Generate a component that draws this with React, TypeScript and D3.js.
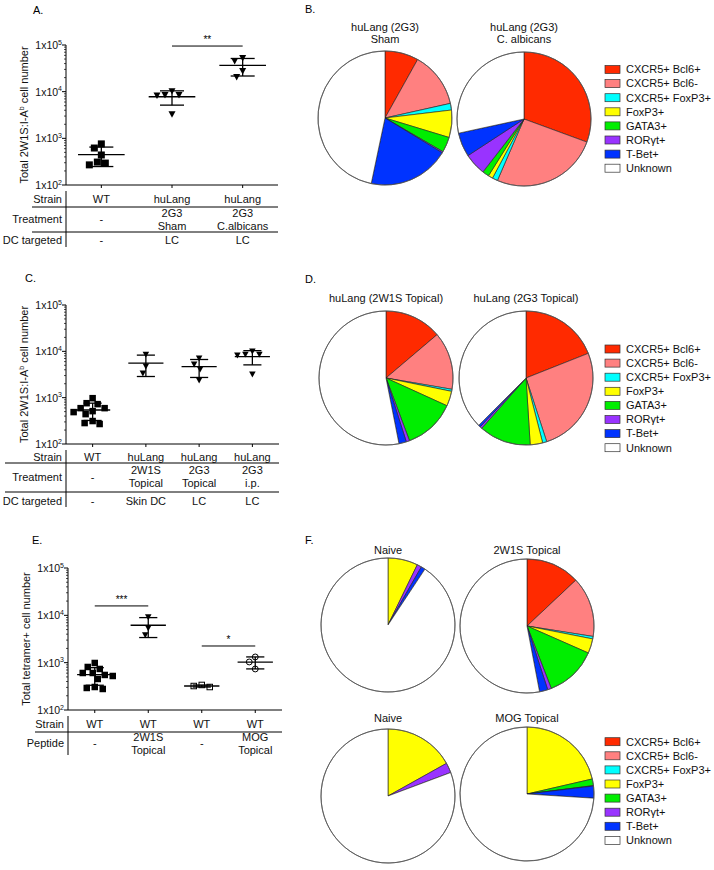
import React from "react";
import * as d3 from "d3";

const FONT = "'Liberation Sans', Arial, Helvetica, sans-serif";

// ---------- Panel A data ----------
const strainA = ["WT", "huLang", "huLang"];
const treatmentA = [["-"], ["2G3", "Sham"], ["2G3", "C.albicans"]];
const dcA = [["-"], ["LC"], ["LC"]];
const valuesA = [
  [760, 620, 440, 310, 270, 295],
  [10300, 8500, 8500, 8300, 3300],
  [52500, 45400, 27700, 20600],
];
const markersA = ["square", "triangle", "triangle"];
const sigA = [{ from: 1, to: 2, label: "**", value: 95000 }];

// ---------- Panel C data ----------
const strainC = ["WT", "huLang", "huLang", "huLang"];
const treatmentC = [["-"], ["2W1S", "Topical"], ["2G3", "Topical"], ["2G3", "i.p."]];
const dcC = [["-"], ["Skin DC"], ["LC"], ["LC"]];
const valuesC = [
  [975, 594, 725, 760, 594, 488, 512, 441, 313, 270, 283],
  [8600, 4750, 3370],
  [7060, 5250, 4100, 2380],
  [10000, 8600, 8600, 8200, 3200],
];
const markersC = ["square", "triangle", "triangle", "triangle"];

// ---------- Panel E data ----------
const strainE = ["WT", "WT", "WT", "WT"];
const peptideE = [["-"], ["2W1S", "Topical"], ["-"], ["MOG", "Topical"]];
const valuesE = [
  [985, 605, 736, 811, 605, 550, 523, 452, 306, 278, 292],
  [9250, 5420, 3850],
  [338, 306, 321],
  [1320, 1035, 736],
];
const markersE = ["square", "triangle", "openSquare", "openCircle"];
const sigE = [
  { from: 0, to: 1, label: "***", value: 15800 },
  { from: 2, to: 3, label: "*", value: 2250 },
];

// ---------- Pie data ----------
const cellTypes = ["CXCR5+ Bcl6+", "CXCR5+ Bcl6-", "CXCR5+ FoxP3+", "FoxP3+", "GATA3+", "RORγt+", "T-Bet+", "Unknown"];
const cellColors = ["#ff2a00", "#ff8080", "#00ffff", "#ffff00", "#00ee00", "#9933ff", "#0033ff", "#ffffff"];
const pieShamB = [8.1, 13.4, 1.6, 6.6, 3.7, 0.3, 19.6, 46.7];
const pieAlbicansB = [30.6, 25.9, 1.3, 1.1, 1.6, 5.3, 5.8, 28.4];
const pie2W1SD = [13.8, 13.9, 0.5, 3.6, 12.5, 0.8, 1.8, 53.1];
const pie2G3D = [19, 26, 1, 3, 12.5, 0.5, 0.5, 37.5];
const pieNaiveTopF = [0, 0, 0, 7.2, 0, 1.1, 1.0, 90.7];
const pie2W1SF = [13, 14.5, 0.6, 3.5, 12.5, 0.9, 2, 53];
const pieNaiveBottomF = [0, 0, 0, 16.9, 0, 2.4, 0, 80.7];
const pieMOGF = [0, 0, 0, 21.4, 1.6, 0.1, 2.9, 74];

const yTickExps = [2, 3, 4, 5];

type Part = { t: string; sup?: boolean };
const ylabelTotal2W1S: Part[] = [{ t: "Total 2W1S:I-A" }, { t: "b", sup: true }, { t: " cell number" }];
const ylabelTetramer: Part[] = [{ t: "Total tetramer+ cell number" }];

function swarm(ys: number[], size: number): number[] {
  const order = d3.range(ys.length).sort((a, b) => ys[a] - ys[b]);
  const placed: { x: number; y: number }[] = [];
  const xs = new Array(ys.length).fill(0);
  for (const i of order) {
    const yy = ys[i];
    let best = 0;
    for (let k = 0; k < 400; k++) {
      const off = k === 0 ? 0 : k % 2 === 1 ? -Math.ceil(k / 2) : Math.ceil(k / 2);
      if (placed.every((p) => Math.hypot(p.x - off, p.y - yy) >= size)) {
        best = off;
        break;
      }
    }
    xs[i] = best;
    placed.push({ x: best, y: yy });
  }
  return xs;
}

function Marker({ kind, x, y, s }: { kind: string; x: number; y: number; s: number }) {
  if (kind === "square") return <rect x={x - s / 2} y={y - s / 2} width={s} height={s} fill="#000" />;
  if (kind === "openSquare")
    return <rect x={x - s / 2 + 0.5} y={y - s / 2 + 0.5} width={s - 1} height={s - 1} fill="none" stroke="#000" strokeWidth={1} />;
  if (kind === "openCircle") return <circle cx={x} cy={y} r={s / 2 - 0.3} fill="none" stroke="#000" strokeWidth={1} />;
  const w = s;
  return (
    <path
      d={`M${x - w / 2},${y - s * 0.42}L${x + w / 2},${y - s * 0.42}L${x},${y + s * 0.5}Z`}
      fill="#000"
    />
  );
}

type Row = { label: string; cells: string[][]; cy: number; lineY?: number };
type PanelCfg = {
  x0: number;
  x1: number;
  yTop: number;
  yBottom: number;
  tableLeft: number;
  rowLabelX: number;
  rows: Row[];
  tableBottom: number;
  ylabel: Part[];
  ylabelX: number;
  values: number[][];
  markers: string[];
  sig: { from: number; to: number; label: string; value: number }[];
  markerSize: number;
};

function ScatterPanel({ p }: { p: PanelCfg }) {
  const n = p.values.length;
  const x = d3.scalePoint<number>().domain(d3.range(n)).range([p.x0, p.x1]).padding(0.5);
  const y = d3.scaleLog().domain([1e2, 1e5]).range([p.yBottom, p.yTop]);
  const step = x.step();
  const minors: number[] = [];
  for (let e = 2; e < 5; e++) for (let m = 2; m < 10; m++) minors.push(m * Math.pow(10, e));
  const meanHalf = step * 0.33;
  const capHalf = step * 0.17;
  const fs = 11;
  return (
    <g>
      {/* y axis */}
      <line x1={p.x0} x2={p.x0} y1={p.yTop} y2={p.yBottom} stroke="#000" strokeWidth={1} />
      {yTickExps.map((e) => {
        const v = Math.pow(10, e);
        const ty = y(v);
        return (
          <g key={"M" + e}>
            <line x1={p.x0 - 4} x2={p.x0} y1={ty} y2={ty} stroke="#000" strokeWidth={1} />
            <text x={p.x0 - 4} y={ty + 4} fontSize={10.5} textAnchor="end" fill="#111">
              <tspan>1x10</tspan>
              <tspan fontSize={7} dy={-4.5}>{e}</tspan>
            </text>
          </g>
        );
      })}
      {minors.map((v) => (
        <line key={"m" + v} x1={p.x0 - 2} x2={p.x0} y1={y(v)} y2={y(v)} stroke="#000" strokeWidth={0.7} />
      ))}
      {/* x axis */}
      <line x1={p.x0} x2={p.x1} y1={p.yBottom} y2={p.yBottom} stroke="#000" strokeWidth={1} />
      {d3.range(n).map((i) => (
        <line key={"xt" + i} x1={x(i)!} x2={x(i)!} y1={p.yBottom} y2={p.yBottom + 3} stroke="#000" strokeWidth={1} />
      ))}
      {/* y label */}
      <text
        transform={`translate(${p.ylabelX},${(p.yTop + p.yBottom) / 2}) rotate(-90)`}
        textAnchor="middle"
        fontSize={11}
        dy="0.35em"
        fill="#111"
      >
        {p.ylabel.map((part, i) => {
          const prevSup = i > 0 && p.ylabel[i - 1].sup;
          return (
            <tspan key={i} fontSize={part.sup ? 7 : 11} dy={part.sup ? -4 : prevSup ? 4 : 0}>
              {part.t}
            </tspan>
          );
        })}
      </text>
      {/* data */}
      {p.values.map((vals, gi) => {
        const cx = x(gi)!;
        const m = d3.mean(vals)!;
        const sd = d3.deviation(vals) || 0;
        const hi = m + sd;
        const lo = Math.max(m - sd, 101);
        const ys = vals.map((v) => y(v));
        const offs = swarm(ys, p.markerSize + 1);
        return (
          <g key={"g" + gi}>
            <line x1={cx - meanHalf} x2={cx + meanHalf} y1={y(m)} y2={y(m)} stroke="#000" strokeWidth={1.3} />
            <line x1={cx} x2={cx} y1={y(hi)} y2={y(lo)} stroke="#000" strokeWidth={1.3} />
            <line x1={cx - capHalf} x2={cx + capHalf} y1={y(hi)} y2={y(hi)} stroke="#000" strokeWidth={1.3} />
            <line x1={cx - capHalf} x2={cx + capHalf} y1={y(lo)} y2={y(lo)} stroke="#000" strokeWidth={1.3} />
            {vals.map((v, k) => (
              <Marker key={k} kind={p.markers[gi]} x={cx + offs[k]} y={ys[k]} s={p.markerSize} />
            ))}
          </g>
        );
      })}
      {/* significance */}
      {p.sig.map((s, i) => (
        <g key={"s" + i}>
          <line x1={x(s.from)!} x2={x(s.to)!} y1={y(s.value)} y2={y(s.value)} stroke="#000" strokeWidth={1} />
          <text x={(x(s.from)! + x(s.to)!) / 2} y={y(s.value) - 3} fontSize={10} textAnchor="middle">
            {s.label}
          </text>
        </g>
      ))}
      {/* table */}
      <line x1={p.x0} x2={p.x0} y1={p.yBottom + 6} y2={p.tableBottom} stroke="#000" strokeWidth={1} />
      {p.rows.map((r, ri) => (
        <g key={"r" + ri}>
          <text x={p.rowLabelX} y={r.cy} dy="0.35em" fontSize={fs} textAnchor="end" fill="#111">
            {r.label}
          </text>
          {r.cells.map((lines, ci) =>
            lines.map((t, li) => (
              <text
                key={ci + "-" + li}
                x={x(ci)!}
                y={r.cy + (li - (lines.length - 1) / 2) * 13}
                dy="0.35em"
                fontSize={fs}
                textAnchor="middle"
                fill="#111"
              >
                {t}
              </text>
            ))
          )}
          {r.lineY !== undefined && (
            <line x1={p.tableLeft} x2={p.x1} y1={r.lineY} y2={r.lineY} stroke="#000" strokeWidth={1} />
          )}
        </g>
      ))}
    </g>
  );
}

function Pie({ cx, cy, r, values, title, titleBaseline }: { cx: number; cy: number; r: number; values: number[]; title: string[]; titleBaseline: number }) {
  const arcs = d3.pie<number>().sort(null).value((d) => d)(values);
  const arcGen = d3.arc<d3.PieArcDatum<number>>().innerRadius(0).outerRadius(r);
  return (
    <g>
      <g transform={`translate(${cx},${cy})`}>
        {arcs.map((a, i) =>
          a.value > 0 ? (
            <path key={i} d={arcGen(a) || ""} fill={cellColors[i]} stroke="#222" strokeWidth={0.6} strokeLinejoin="round" />
          ) : null
        )}
        <circle r={r} fill="none" stroke="#555" strokeWidth={0.8} />
      </g>
      {title.map((t, i) => (
        <text key={i} x={cx} y={titleBaseline - (title.length - 1 - i) * 12} fontSize={11} textAnchor="middle" fill="#111">
          {t}
        </text>
      ))}
    </g>
  );
}

function Legend({ x, y0, gap }: { x: number; y0: number; gap: number }) {
  return (
    <g>
      {cellTypes.map((c, i) => (
        <g key={c}>
          <rect x={x} y={y0 + i * gap - 4} width={15} height={8} fill={cellColors[i]} stroke="#333" strokeWidth={0.7} />
          <text x={x + 21} y={y0 + i * gap} dy="0.35em" fontSize={11} fill="#111">
            {c}
          </text>
        </g>
      ))}
    </g>
  );
}

const panelA: PanelCfg = {
  x0: 66,
  x1: 278,
  yTop: 45,
  yBottom: 185,
  tableLeft: 32,
  rowLabelX: 62,
  rows: [
    { label: "Strain", cells: strainA.map((s) => [s]), cy: 199, lineY: 207 },
    { label: "Treatment", cells: treatmentA, cy: 219.5, lineY: 232 },
    { label: "DC targeted", cells: dcA, cy: 240 },
  ],
  tableBottom: 247,
  ylabel: ylabelTotal2W1S,
  ylabelX: 28,
  values: valuesA,
  markers: markersA,
  sig: sigA,
  markerSize: 7,
};

const panelC: PanelCfg = {
  x0: 66,
  x1: 279,
  yTop: 305,
  yBottom: 444,
  tableLeft: 5,
  rowLabelX: 62,
  rows: [
    { label: "Strain", cells: strainC.map((s) => [s]), cy: 457, lineY: 463 },
    { label: "Treatment", cells: treatmentC, cy: 477, lineY: 492 },
    { label: "DC targeted", cells: dcC, cy: 501 },
  ],
  tableBottom: 507,
  ylabel: ylabelTotal2W1S,
  ylabelX: 28,
  values: valuesC,
  markers: markersC,
  sig: [],
  markerSize: 6.5,
};

const panelE: PanelCfg = {
  x0: 68,
  x1: 282,
  yTop: 568,
  yBottom: 710,
  tableLeft: 35,
  rowLabelX: 64,
  rows: [
    { label: "Strain", cells: strainE.map((s) => [s]), cy: 724, lineY: 732 },
    { label: "Peptide", cells: peptideE, cy: 743.5 },
  ],
  tableBottom: 755,
  ylabel: ylabelTetramer,
  ylabelX: 30,
  values: valuesE,
  markers: markersE,
  sig: sigE,
  markerSize: 6.5,
};

export default function App() {
  return (
    <svg
      width={714}
      height={870}
      viewBox="0 0 714 870"
      style={{ position: "absolute", left: 0, top: 0, background: "#fff" }}
      fontFamily={FONT}
    >
      <rect width={714} height={870} fill="#fff" />
      {/* panel letters */}
      <text x={33} y={14} fontSize={11}>A.</text>
      <text x={305} y={13} fontSize={11}>B.</text>
      <text x={25} y={282} fontSize={11}>C.</text>
      <text x={305} y={283} fontSize={11}>D.</text>
      <text x={32} y={544} fontSize={11}>E.</text>
      <text x={305} y={544} fontSize={11}>F.</text>

      <ScatterPanel p={panelA} />
      <ScatterPanel p={panelC} />
      <ScatterPanel p={panelE} />

      {/* B */}
      <Pie cx={385} cy={118} r={67} values={pieShamB} title={["huLang (2G3)", "Sham"]} titleBaseline={43} />
      <Pie cx={524} cy={119} r={67} values={pieAlbicansB} title={["huLang (2G3)", "C. albicans"]} titleBaseline={43} />
      <Legend x={605} y0={69.5} gap={14.1} />

      {/* D */}
      <Pie cx={386} cy={378} r={67} values={pie2W1SD} title={["huLang (2W1S Topical)"]} titleBaseline={302} />
      <Pie cx={526} cy={378} r={67} values={pie2G3D} title={["huLang (2G3 Topical)"]} titleBaseline={302} />
      <Legend x={605} y0={349} gap={14.1} />

      {/* F */}
      <Pie cx={388} cy={625} r={67} values={pieNaiveTopF} title={["Naive"]} titleBaseline={554} />
      <Pie cx={527} cy={626} r={67} values={pie2W1SF} title={["2W1S Topical"]} titleBaseline={554} />
      <Pie cx={388} cy={796} r={67} values={pieNaiveBottomF} title={["Naive"]} titleBaseline={722} />
      <Pie cx={527} cy={794} r={67} values={pieMOGF} title={["MOG Topical"]} titleBaseline={722} />
      <Legend x={605} y0={741.7} gap={14.1} />
    </svg>
  );
}
